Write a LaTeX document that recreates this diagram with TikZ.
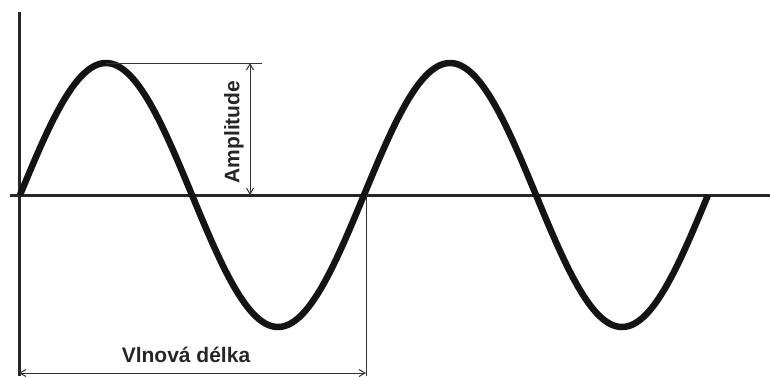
\documentclass[tikz,border=0pt]{standalone}
\usepackage{fontspec}
\setmainfont{Liberation Sans}
\usetikzlibrary{arrows.meta,positioning}

\begin{document}
\begin{tikzpicture}[x=1pt,y=-1pt,>={Straight Barb[length=6pt,width=7pt]}]
  \useasboundingbox (0,0) rectangle (770,376);
  \tikzset{axis/.style={line width=3pt,black!85},
    wave/.style={line width=6.5pt,black!92},
    dim/.style={line width=1pt,black!80},
    lab/.style={font=\fontsize{21}{25}\selectfont\bfseries,text=black!85}}
  \coordinate (O) at (19,195);
  \coordinate (ytop) at (19,12);
  \coordinate (ybot) at (19,376);
  \coordinate (xl) at (10,195);
  \coordinate (xr) at (770,195);
  \coordinate (crest) at (106,63);
  \coordinate (atop) at (262,63);
  \coordinate (aup) at (250,63);
  \coordinate (adown) at (250,195);
  \coordinate (lam) at (366,195);
  \coordinate (lambot) at (366,376);
  \coordinate (wl) at (19,373);
  \coordinate (wr) at (366,373);
  \draw[axis] (xl) -- (xr);
  \draw[axis] (ytop) -- (ybot);
  \draw[wave] plot[domain=0:720,samples=240] ({20+\x/360*344},{195-132*sin(\x)});
  \draw[dim] (crest) -- (atop);
  \draw[dim,<->] (aup) -- (adown);
  \draw[dim] (lam) -- (lambot);
  \draw[dim,<->] (wl) -- (wr);
  \node[lab,rotate=90] (amp) at (234,132) {Amplitude};
  \node[lab] (vlna) at (186,355) {Vlnová délka};
\end{tikzpicture}
\end{document}
